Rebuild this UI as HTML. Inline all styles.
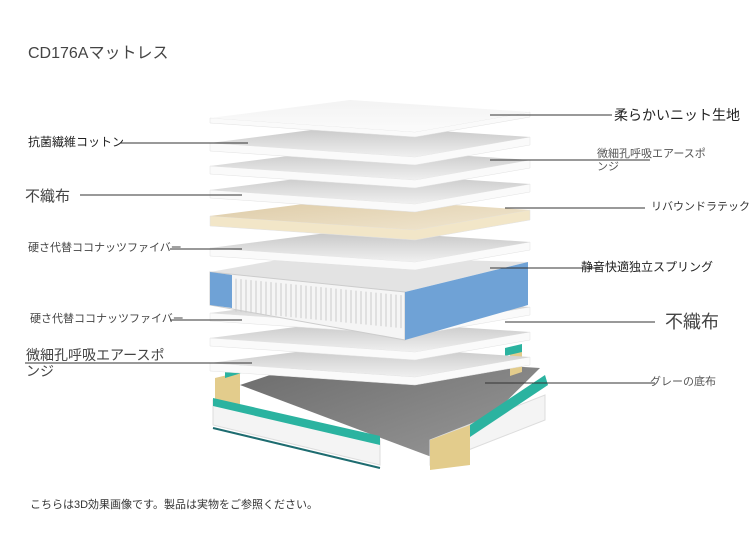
<!DOCTYPE html>
<html><head><meta charset="utf-8"><style>
body{margin:0;width:750px;height:554px;background:#fff;overflow:hidden;font-family:"Liberation Sans","Noto Sans CJK JP",sans-serif;}
.t{position:absolute;white-space:nowrap;color:#333;line-height:1.15}
</style></head><body>
<div style="position:relative;width:750px;height:554px">
<svg width="750" height="554" style="position:absolute;left:0;top:0">
<defs>
<linearGradient id="g" x1="0" y1="0" x2="0" y2="1"><stop offset="0" stop-color="#c4c4c4"/><stop offset="1" stop-color="#f0f0f0"/></linearGradient>
<linearGradient id="gt" x1="0" y1="0" x2="0" y2="1"><stop offset="0" stop-color="#f3f3f3"/><stop offset="1" stop-color="#fbfbfb"/></linearGradient>
<linearGradient id="lat" x1="0" y1="0" x2="1" y2="1"><stop offset="0" stop-color="#dcc9a4"/><stop offset="1" stop-color="#f1e7d1"/></linearGradient>
<linearGradient id="fl" x1="0" y1="0" x2="1" y2="1"><stop offset="0" stop-color="#6a6a6a"/><stop offset="1" stop-color="#9a9a9a"/></linearGradient>
</defs>
<polygon points="240,385 330,355 540,368 445,462" fill="url(#fl)"/>
<polygon points="215,378 240,372 240,415 215,420" fill="#e3cc8c"/>
<polygon points="213,400 380,440 380,465 213,425" fill="#f4f4f4" stroke="#ddd"/>
<polygon points="213,398 380,436 380,445 213,406" fill="#2bb3a0"/>
<line x1="213" y1="428" x2="380" y2="468" stroke="#1e6c70" stroke-width="2"/>
<polygon points="430,440 545,395 545,420 430,465" fill="#f4f4f4" stroke="#ddd"/>
<polygon points="455,435 545,375 548,385 458,445" fill="#2bb3a0"/>
<polygon points="430,440 470,425 470,465 430,470" fill="#e3cc8c"/>
<polygon points="510,352 522,348 522,372 510,376" fill="#e3cc8c"/>
<polygon points="505,348 522,344 522,352 505,356" fill="#2bb3a0"/>
<polygon points="225,368 245,362 245,372 225,378" fill="#2bb3a0"/>
<g id="layers"></g>
<g stroke="#333" stroke-width="1">
<line x1="490" y1="115" x2="612" y2="115"/>
<line x1="490" y1="160" x2="650" y2="160"/>
<line x1="505" y1="208" x2="645" y2="208"/>
<line x1="490" y1="268" x2="600" y2="268"/>
<line x1="505" y1="322" x2="655" y2="322"/>
<line x1="485" y1="383" x2="655" y2="383"/>
<line x1="120" y1="143" x2="248" y2="143"/>
<line x1="80" y1="195" x2="242" y2="195"/>
<line x1="170" y1="249" x2="242" y2="249"/>
<line x1="170" y1="320" x2="242" y2="320"/>
<line x1="25" y1="363" x2="252" y2="363"/>
</g>
</svg>
<div class="t" style="left:614px;top:107px;font-size:14px;color:#222">柔らかいニット生地</div>
<div class="t" style="left:28px;top:45px;font-size:16px;color:#444">CD176Aマットレス</div>
<div class="t" style="left:597px;top:148px;font-size:11px;color:#555">微細孔呼吸エアースポ<br>ンジ</div>
<div class="t" style="left:651px;top:201px;font-size:11px">リバウンドラテック</div>
<div class="t" style="left:581px;top:261px;font-size:12px;color:#222">静音快適独立スプリング</div>
<div class="t" style="left:665px;top:312px;font-size:18px;color:#444">不織布</div>
<div class="t" style="left:650px;top:376px;font-size:11px;color:#555">グレーの底布</div>
<div class="t" style="left:28px;top:136px;font-size:12px;color:#222">抗菌繊維コットン</div>
<div class="t" style="left:25px;top:188px;font-size:15px;color:#444">不織布</div>
<div class="t" style="left:28px;top:242px;font-size:11px;color:#444">硬さ代替ココナッツファイバー</div>
<div class="t" style="left:30px;top:313px;font-size:11px;color:#444">硬さ代替ココナッツファイバー</div>
<div class="t" style="left:26px;top:347px;font-size:14px;color:#444">微細孔呼吸エアースポ<br>ンジ</div>
<div class="t" style="left:30px;top:499px;font-size:11px;color:#333">こちらは3D効果画像です。製品は実物をご参照ください。</div>
</div>
<script>
var offs=[[245,'g',8],[220,'g',8],[195,'g',8],['spring'],[130,'g',8],[98,'lat',10],[72,'g',8],[48,'g',8],[25,'g',8],[0,'gt',5]];
var s='';
function P(a,dy){return a.map(function(p){return p[0]+','+(p[1]+dy)}).join(' ')}
var L=[[210,118],[350,100],[530,112],[415,132]];
offs.forEach(function(o){
 if(o[0]==='spring'){
  s+='<polygon points="210,272 300,256 528,262 405,292" fill="#e3e3e3"/>';
  s+='<polygon points="210,272 405,292 405,340 210,305" fill="#f5f5f5" stroke="#ccc"/>';
  s+='<polygon points="405,292 528,262 528,305 405,340" fill="#6fa2d6"/>';
  s+='<polygon points="210,272 232,275 232,308 210,305" fill="#6fa2d6"/>';
  for(var x=236;x<402;x+=5){var y1=276+(x-210)*0.1;s+='<line x1="'+x+'" y1="'+y1+'" x2="'+x+'" y2="'+(y1+33)+'" stroke="#ccc"/>';}
  return;}
 var dy=o[0],f=o[1],th=o[2];
 s+='<polygon points="'+P([[210,118],[415,132],[530,112]],dy)+' '+P([[530,112+th],[415,132+th],[210,118+th]],dy)+'" fill="'+(f=='lat'?'#f2e6c8':'#fafafa')+'" stroke="#e2e2e2" stroke-width="0.5"/>';
 s+='<polygon points="'+P(L,dy)+'" fill="url(#'+f+')"/>';
});
document.getElementById('layers').innerHTML=s;
</script>
</body></html>
